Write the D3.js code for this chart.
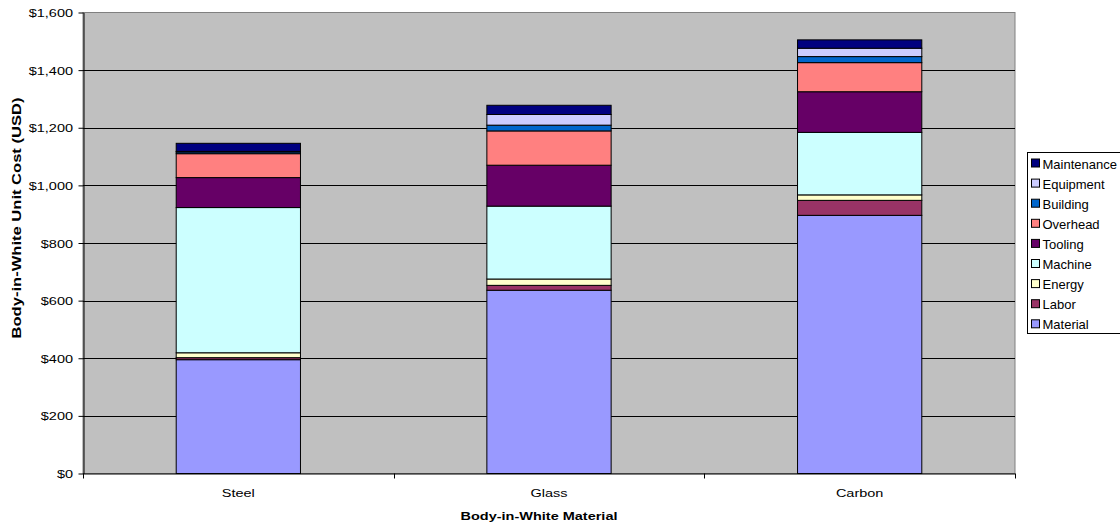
<!DOCTYPE html>
<html>
<head>
<meta charset="utf-8">
<script src="https://cdn.jsdelivr.net/npm/d3@7"></script>
<style>
  html, body { margin: 0; padding: 0; background: #fff; }
  svg { display: block; font-family: "Liberation Sans", Arial, sans-serif; }
</style>
</head>
<body>
<svg id="chart" width="1120" height="527"></svg>
<script>
const categories = ["Steel", "Glass", "Carbon"];
const seriesNames = ["Material", "Labor", "Energy", "Machine", "Tooling", "Overhead", "Building", "Equipment", "Maintenance"];
const material    = [395, 636, 896];
const labor       = [7, 17, 52];
const energy      = [17, 22, 19];
const machine     = [504, 253, 217];
const tooling     = [104, 142, 141];
const overhead    = [83, 119, 101];
const building    = [6, 20, 21];
const equipment   = [2, 37, 29];
const maintenance = [28, 32, 29];
const yTicks = [0, 200, 400, 600, 800, 1000, 1200, 1400, 1600];
const colors = ["#9999FF", "#993366", "#FFFFCC", "#CCFFFF", "#660066", "#FF8080", "#0066CC", "#CCCCFF", "#000080"];

const seriesValues = [material, labor, energy, machine, tooling, overhead, building, equipment, maintenance];
const table = categories.map((c, i) => {
  const row = { category: c };
  seriesNames.forEach((s, j) => { row[s] = seriesValues[j][i]; });
  return row;
});

const svg = d3.select("#chart");
const pL = 83, pR = 1015, pT = 12.5, pB = 473.5;
const stretch = 1.26;

const x = d3.scaleBand().domain(categories).range([pL, pR]).paddingInner(0.6).paddingOuter(0.3);
const y = d3.scaleLinear().domain([0, 1600]).range([pB, pT]);

// plot background
svg.append("rect").attr("x", pL).attr("y", pT).attr("width", pR - pL).attr("height", pB - pT)
  .attr("fill", "#C0C0C0").attr("stroke", "#808080").attr("stroke-width", 1);

// gridlines
svg.append("g").selectAll("line").data(yTicks.filter(d => d > 0 && d < 1600)).join("line")
  .attr("x1", pL).attr("x2", pR)
  .attr("y1", d => Math.round(y(d)) + 0.5).attr("y2", d => Math.round(y(d)) + 0.5)
  .attr("stroke", "#000").attr("stroke-width", 1);

// stacked bars
const stack = d3.stack().keys(seriesNames);
const layers = stack(table);
const color = d3.scaleOrdinal().domain(seriesNames).range(colors);

svg.append("g").selectAll("g").data(layers).join("g")
  .attr("fill", d => color(d.key))
  .selectAll("rect").data(d => d).join("rect")
  .attr("x", d => x(d.data.category))
  .attr("width", x.bandwidth())
  .attr("y", d => y(d[1]))
  .attr("height", d => Math.max(0, y(d[0]) - y(d[1])))
  .attr("stroke", "#000").attr("stroke-width", 1);

// y axis
const yAxis = d3.axisLeft(y).tickValues(yTicks).tickSize(5).tickSizeOuter(0)
  .tickFormat(d => "$" + d3.format(",")(d));
const gy = svg.append("g").attr("transform", `translate(${pL + 0.5},0)`).call(yAxis);
gy.select(".domain").attr("stroke", "#000");
gy.selectAll(".tick line").attr("stroke", "#000");
gy.selectAll(".tick text").attr("font-size", 11.5).attr("fill", "#000")
  .attr("x", -10.5 / stretch).attr("dy", "0.35em")
  .attr("transform", `scale(${stretch},1)`)
  .attr("font-family", "Liberation Sans, Arial, sans-serif");

// x axis baseline and ticks at band boundaries
const boundaries = d3.range(categories.length + 1).map(i => pL + i * ((pR - pL) / categories.length));
svg.append("line").attr("x1", pL).attr("x2", pR).attr("y1", pB + 0.5).attr("y2", pB + 0.5).attr("stroke", "#000");
svg.append("g").selectAll("line").data(boundaries).join("line")
  .attr("x1", d => Math.round(d) + 0.5).attr("x2", d => Math.round(d) + 0.5)
  .attr("y1", pB).attr("y2", pB + 5).attr("stroke", "#000");
svg.append("g").selectAll("text").data(categories).join("text")
  .attr("transform", d => `translate(${x(d) + x.bandwidth() / 2},497) scale(${stretch},1)`)
  .attr("text-anchor", "middle").attr("font-size", 11.5).text(d => d);

// axis titles
svg.append("text").attr("transform", `translate(539,520) scale(${stretch},1)`).attr("text-anchor", "middle")
  .attr("font-size", 11.5).attr("font-weight", "bold").text("Body-in-White Material");
svg.append("text").attr("transform", `translate(20.5,218) rotate(-90) scale(1.38,1)`)
  .attr("text-anchor", "middle").attr("font-size", 12).attr("font-weight", "bold")
  .text("Body-in-White Unit Cost (USD)");

// legend
const legX = 1027, legY = 152.5, legH = 181, rowH = 20.1;
svg.append("rect").attr("x", legX + 0.5).attr("y", legY).attr("width", 110).attr("height", legH)
  .attr("fill", "#fff").attr("stroke", "#000");
const legendOrder = seriesNames.slice().reverse();
const lg = svg.append("g").selectAll("g").data(legendOrder).join("g")
  .attr("transform", (d, i) => `translate(${legX + 4},${legY + 11 + i * rowH})`);
lg.append("rect").attr("x", 0.5).attr("y", -4.5).attr("width", 8).attr("height", 8)
  .attr("fill", d => color(d)).attr("stroke", "#000");
lg.append("text").attr("x", 11.5).attr("y", 5).attr("font-size", 13).text(d => d);
</script>
</body>
</html>
